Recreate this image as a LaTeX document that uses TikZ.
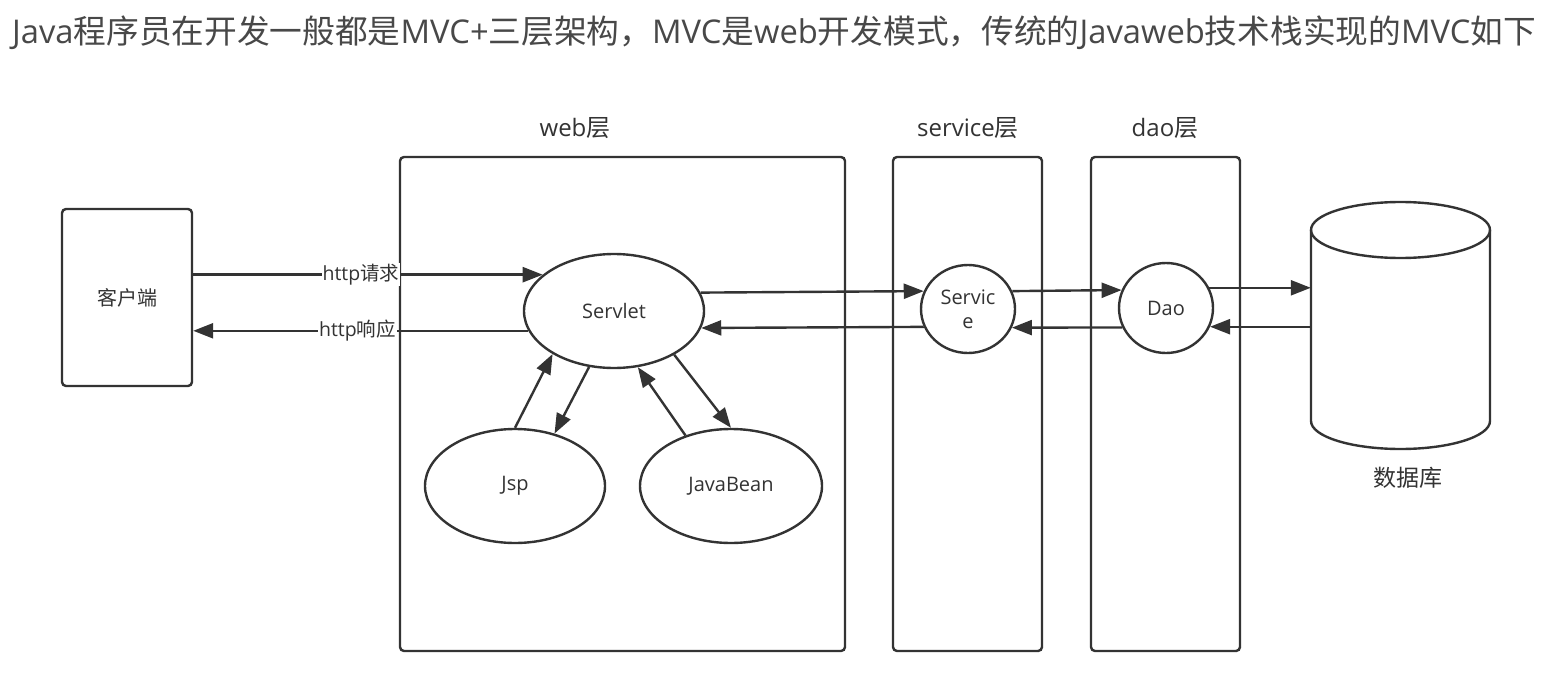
\documentclass[tikz,border=0pt]{standalone}
\usepackage{fontspec}
\newfontfamily\cjk{Noto Sans CJK SC}
\newfontfamily\lat{Open Sans}
\usetikzlibrary{arrows.meta,shapes.geometric}
\definecolor{ln}{RGB}{51,51,51}
\definecolor{tt}{RGB}{72,72,72}
\begin{document}
\begin{tikzpicture}[x=1pt,y=-1pt,
  lay/.style={draw=ln, line width=2.4pt, rounded corners=4pt, inner sep=0pt, text=ln, font=\cjk\fontsize{20}{24}\selectfont},
  ell/.style={ellipse, draw=ln, line width=2.4pt, inner sep=0pt, text=ln, font=\lat\fontsize{20}{24}\selectfont, align=center},
  arr/.style={draw=ln, line width=2.4pt, -{Triangle[length=20pt,width=15pt]}},
  lbl/.style={fill=white, inner sep=1pt, text=ln, font=\cjk\fontsize{19.5}{23}\selectfont},
  laylbl/.style={text=ln, font=\cjk\fontsize{24}{28}\selectfont, inner sep=0pt}
]
\fill[white] (0,0) rectangle (1555,674);
\useasboundingbox (0,0) rectangle (1555,674);

% title
\node[anchor=west, inner sep=0pt, text=tt, font=\cjk\fontsize{32.7}{39}\selectfont] (title) at (12,33)
  {{\lat Java}程序员在开发一般都是{\lat MVC+}三层架构，{\lat MVC}是{\lat web}开发模式，传统的{\lat Javaweb}技术栈实现的{\lat MVC}如下};

% layer boxes
\node[lay, minimum width=130pt, minimum height=177pt] (client) at (127,297.5) {客户端};
\node[lay, minimum width=445pt, minimum height=494pt] (web) at (622.5,404) {};
\node[lay, minimum width=149pt, minimum height=494pt] (svc) at (967.5,404) {};
\node[lay, minimum width=149pt, minimum height=494pt] (daobox) at (1165.5,404) {};

\node[laylbl] (weblbl) at (575,128) {{\lat web}层};
\node[laylbl] (svclbl) at (968,128) {{\lat service}层};
\node[laylbl] (daolbl) at (1165,128) {{\lat dao}层};

% ellipses
\node[ell, minimum width=180pt, minimum height=114pt] (servlet) at (614,311) {Servlet};
\node[ell, minimum width=94pt, minimum height=88pt] (service) at (968,309) {Servic\\e};
\node[ell, minimum width=94pt, minimum height=90pt] (dao) at (1166,308) {Dao};
\node[ell, minimum width=180pt, minimum height=114pt] (jsp) at (515,486) {Jsp};
\node[ell, minimum width=182pt, minimum height=114pt] (javabean) at (731,486) {JavaBean};

% database cylinder
\node[inner sep=0pt, minimum width=179pt, minimum height=247pt] (db) at (1400.5,325.5) {};
\draw[ln, line width=2.4pt, fill=white] (1311,230) -- (1311,421) arc[start angle=180, end angle=0, x radius=89.5, y radius=28] -- (1490,230);
\draw[ln, line width=2.4pt] (1400.5,230) ellipse [x radius=89.5, y radius=28];
\node[text=ln, font=\cjk\fontsize{23}{27}\selectfont, inner sep=0pt] (dblbl) at (1408,478) {数据库};

% client <-> servlet
\draw[arr] (client.east |- servlet.153) -- node[pos=0.48, lbl] {{\lat http}请求} (servlet.153);
\draw[arr] (servlet.193) -- node[pos=0.51, lbl] {{\lat http}响应} (client.east |- servlet.193);

% servlet <-> jsp / javabean
\draw[arr] (jsp.90) -- (servlet.215);
\draw[arr] (servlet.246) -- (jsp.53);
\draw[arr] (javabean.132) -- (servlet.293);
\draw[arr] (servlet.324) -- (javabean.90);

% servlet <-> service
\draw[arr] (servlet.12.6) -- (service.158.6);
\draw[arr] (service.202.8) -- (servlet.349.5);

% service <-> dao
\draw[arr] (service.22.8) -- (dao.158.7);
\draw[arr] (dao.204) -- (service.337.2);

% dao <-> db
\draw[arr] (dao.25.4) -- (db.west |- dao.25.4);
\draw[arr] (db.west |- dao.337.3) -- (dao.337.3);
\end{tikzpicture}
\end{document}
